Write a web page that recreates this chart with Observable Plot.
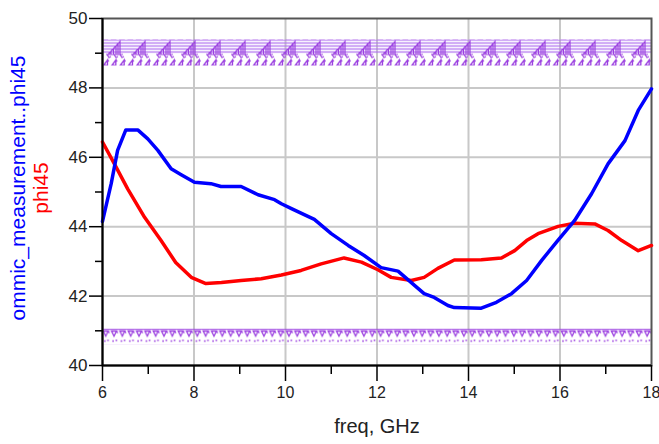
<!DOCTYPE html>
<html>
<head>
<meta charset="utf-8">
<script src="https://cdn.jsdelivr.net/npm/d3@7"></script>
<script src="https://cdn.jsdelivr.net/npm/@observablehq/plot@0.6"></script>
<style>
  body { margin: 0; background: #fff; }
  svg { display: block; }
</style>
</head>
<body>
<div id="chart"></div>
<script>
// Measured phase (ommic_measurement..phi45) versus frequency
const freqMeas = [6.0, 6.02, 6.19, 6.33, 6.51, 6.77, 6.99, 7.21, 7.5, 7.72, 8.01, 8.37, 8.59, 9.03, 9.4, 9.76, 9.91, 10.13, 10.63, 11.0, 11.37, 11.72, 12.09, 12.46, 12.82, 13.03, 13.25, 13.55, 13.69, 14.28, 14.61, 14.94, 15.27, 15.6, 15.95, 16.32, 16.69, 17.05, 17.42, 17.71, 18.0];
const phiMeas  = [44.15, 44.27, 45.24, 46.2, 46.79, 46.79, 46.53, 46.2, 45.67, 45.5, 45.28, 45.24, 45.16, 45.16, 44.92, 44.78, 44.66, 44.52, 44.21, 43.8, 43.46, 43.17, 42.82, 42.72, 42.31, 42.07, 41.96, 41.73, 41.67, 41.65, 41.82, 42.07, 42.45, 43.03, 43.6, 44.18, 44.95, 45.81, 46.48, 47.35, 47.97];

// Simulated phase (phi45) versus frequency
const freqSim = [6.0, 6.26, 6.55, 6.92, 7.28, 7.6, 7.94, 8.26, 8.6, 9.03, 9.47, 9.91, 10.34, 10.78, 11.28, 11.66, 12.02, 12.31, 12.75, 13.03, 13.33, 13.69, 14.28, 14.72, 15.01, 15.27, 15.52, 15.96, 16.32, 16.76, 17.05, 17.35, 17.71, 18.0];
const phiSim  = [46.44, 45.81, 45.09, 44.27, 43.6, 42.97, 42.54, 42.36, 42.39, 42.45, 42.5, 42.61, 42.74, 42.93, 43.1, 42.98, 42.76, 42.54, 42.45, 42.54, 42.8, 43.04, 43.05, 43.1, 43.31, 43.6, 43.8, 44.01, 44.1, 44.08, 43.89, 43.6, 43.31, 43.46];

// Axis ticks
const xTicks = [6, 8, 10, 12, 14, 16, 18];
const xMinor = [7, 9, 11, 13, 15, 17];
const yTicks = [40, 42, 44, 46, 48, 50];
const yMinor = [41, 43, 45, 47, 49];

// Limit-line mask bands (upper and lower), in degrees
const upperMask = [48.63, 49.38];
const lowerMask = [40.6, 41.05];

const meas = freqMeas.map((f, i) => ({freq: f, phi: phiMeas[i]}));
const sim = freqSim.map((f, i) => ({freq: f, phi: phiSim[i]}));
const bands = [
  {x1: xTicks[0], x2: xTicks[xTicks.length - 1], y1: upperMask[0], y2: upperMask[1], fill: "url(#maskHi)"},
  {x1: xTicks[0], x2: xTicks[xTicks.length - 1], y1: lowerMask[0], y2: lowerMask[1], fill: "url(#maskLo)"}
];

const font = "'Liberation Sans', Arial, sans-serif";
const gridStyle = {stroke: "#c8c8c8", strokeOpacity: 1, strokeWidth: 2};
const maskColor = "#9b40e0";

const chart = Plot.plot({
  width: 659,
  height: 444,
  marginLeft: 102,
  marginRight: 8,
  marginTop: 18,
  marginBottom: 79,
  style: {fontFamily: font, background: "#fff", color: "#000"},
  x: {domain: [6, 18]},
  y: {domain: [40, 50]},
  marks: [
    Plot.gridX(xTicks.slice(1, -1), gridStyle),
    Plot.gridY(yTicks.slice(1, -1), gridStyle),
    Plot.rect(bands, {x1: "x1", x2: "x2", y1: "y1", y2: "y2", fill: "fill"}),
    Plot.frame({stroke: "#555", strokeWidth: 2}),
    Plot.line(sim, {x: "freq", y: "phi", stroke: "#ff0000", strokeWidth: 3.5, strokeLinejoin: "round"}),
    Plot.line(meas, {x: "freq", y: "phi", stroke: "#0000ff", strokeWidth: 3.5, strokeLinejoin: "round"}),
    Plot.axisX(xMinor, {tickSize: 9, text: null, stroke: "#000", strokeWidth: 1.5, label: null}),
    Plot.axisX(xTicks, {tickSize: 16, tickPadding: 5, fontSize: 16, fill: "#222", stroke: "#000", strokeWidth: 1.5, label: null}),
    Plot.axisY(yMinor, {tickSize: 7, text: null, stroke: "#000", strokeWidth: 1.5, label: null}),
    Plot.axisY(yTicks, {tickSize: 13, tickPadding: 2, fontSize: 17, fill: "#222", stroke: "#000", strokeWidth: 1.5, label: null}),
    Plot.ruleX([6], {stroke: "#000", strokeWidth: 2}),
    Plot.ruleY([40], {stroke: "#000", strokeWidth: 2}),
    Plot.text(["freq, GHz"], {frameAnchor: "bottom", dy: 67, fontSize: 20, fill: "#222"}),
    Plot.text(["ommic_measurement..phi45"], {frameAnchor: "left", textAnchor: "middle", dx: -84, dy: -4, rotate: -90, fontSize: 21, fill: "#0000ff"}),
    Plot.text(["phi45"], {frameAnchor: "left", textAnchor: "middle", dx: -61, dy: -4, rotate: -90, fontSize: 21, fill: "#ff0000"})
  ]
});

// Hatched patterns for the mask bands, anchored to the plot frame
const xs = chart.scale("x"), ys = chart.scale("y");
const x0 = xs.apply(6);
const hiTop = ys.apply(upperMask[1]);
const loTop = ys.apply(lowerMask[1]);
const svgEl = chart.tagName.toLowerCase() === "svg" ? chart : chart.querySelector("svg");
const defs = d3.select(svgEl).insert("defs", ":first-child");

// upper band: horizontal hatch, staircase glyphs, then a row of small triangles
const hi = defs.append("pattern")
  .attr("id", "maskHi").attr("patternUnits", "userSpaceOnUse")
  .attr("x", x0).attr("y", hiTop).attr("width", 25).attr("height", 27);
[0.5, 3.5, 6.5, 9.5, 12.5].forEach(v =>
  hi.append("line").attr("x1", 0).attr("x2", 25).attr("y1", v).attr("y2", v)
    .attr("stroke", "#ad6cee").attr("stroke-width", 1.2));
hi.append("path")
  .attr("d", "M6,15 L18,2 L18,15 Z M9,15 V11.8 M11.5,15 V9 M14,15 V6.3 M16,15 V4.2 M4,15 H21 M5,15 l2,3 l2,-1 M12,15 l2,3 l2,-1 M18,15 l2,3 l2,-1")
  .attr("fill", "none").attr("stroke", maskColor).attr("stroke-width", 1.2);
[0, 8.33, 16.67].forEach(dx =>
  hi.append("path")
    .attr("d", `M${dx + 1.5},26 L${dx + 5.5},20.5 L${dx + 5.5},26 Z M${dx + 5.5},20.5 l1.5,1.2`)
    .attr("fill", "none").attr("stroke", maskColor).attr("stroke-width", 1.3));

// lower band: top line, row of hooked triangles, then dots
const lo = defs.append("pattern")
  .attr("id", "maskLo").attr("patternUnits", "userSpaceOnUse")
  .attr("x", x0).attr("y", loTop).attr("width", 8.33).attr("height", 16);
lo.append("line").attr("x1", 0).attr("x2", 8.33).attr("y1", 0.6).attr("y2", 0.6)
  .attr("stroke", maskColor).attr("stroke-width", 1.2);
lo.append("path")
  .attr("d", "M1.2,2.5 L6.2,2.5 L3.7,7.5 Z M6.2,2.5 l1.2,2")
  .attr("fill", "none").attr("stroke", maskColor).attr("stroke-width", 1.3);
lo.append("path")
  .attr("d", "M2,12.5 h1.6 M5.2,11.8 h1.6")
  .attr("fill", "none").attr("stroke", maskColor).attr("stroke-width", 1.6);

document.getElementById("chart").appendChild(chart);
</script>
</body>
</html>
